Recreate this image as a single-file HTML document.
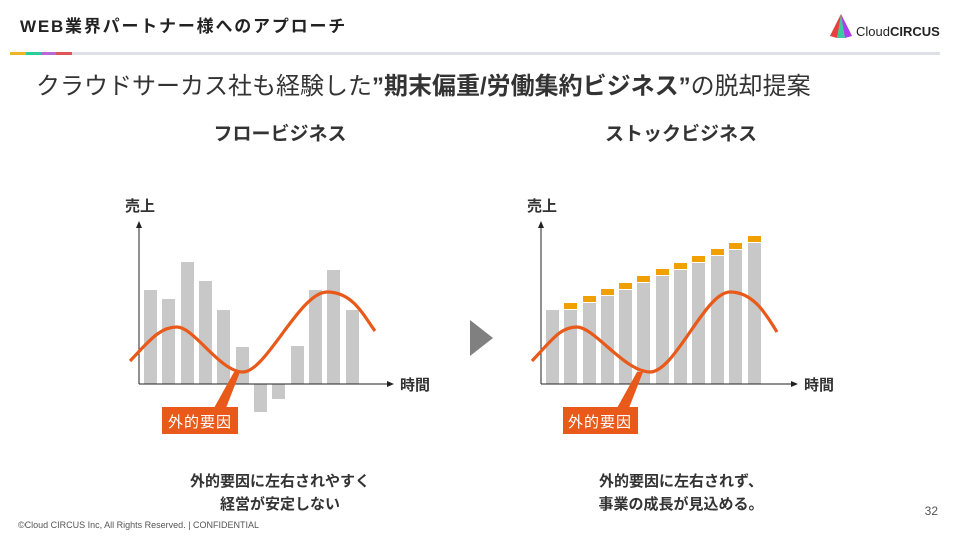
<!DOCTYPE html>
<html><head><meta charset="utf-8"><style>
html,body{margin:0;padding:0;background:#fff}
body{width:960px;height:540px;overflow:hidden;font-family:"Liberation Sans","Noto Sans CJK JP",sans-serif}
</style></head><body>
<svg width="960" height="540" viewBox="0 0 960 540" xmlns="http://www.w3.org/2000/svg" font-family="'Liberation Sans','Noto Sans CJK JP',sans-serif">
<text x="20" y="32" font-size="17" font-weight="bold" fill="#222" letter-spacing="1.8">WEB業界パートナー様へのアプローチ</text>
<g transform="translate(830,14)">
<polygon points="11,0 0,22 22,22" fill="#f5a623"/>
<polygon points="11,0 7,24 15,24" fill="#3cc8a0"/>
<polygon points="11,0 15,24 22,22" fill="#b03cf0"/>
<polygon points="11,0 0,22 7,24" fill="#e84040"/>
</g>
<text x="856" y="36" font-size="13" fill="#222">Cloud<tspan font-weight="bold">CIRCUS</tspan></text>
<rect x="10" y="52" width="930" height="3" fill="#dde0e4"/>
<rect x="10" y="52" width="16" height="3" fill="#f0b429"/>
<rect x="26" y="52" width="15" height="3" fill="#2ecc9a"/>
<rect x="41" y="52" width="15" height="3" fill="#b56ad8"/>
<rect x="56" y="52" width="16" height="3" fill="#e05555"/>
<text x="36" y="94" font-size="24" fill="#333">クラウドサーカス社も経験した<tspan font-weight="bold">”期末偏重/労働集約ビジネス”</tspan>の脱却提案</text>
<text x="280" y="140" font-size="19" fill="#333" text-anchor="middle" font-weight="bold">フロービジネス</text>
<text x="681" y="140" font-size="19" fill="#333" text-anchor="middle" font-weight="bold">ストックビジネス</text>

<!-- left chart -->
<g fill="#c8c8c8">
<rect x="144" y="290" width="13" height="94"/>
<rect x="162" y="299" width="13" height="85"/>
<rect x="181" y="262" width="13" height="122"/>
<rect x="199" y="281" width="13" height="103"/>
<rect x="217" y="310" width="13" height="74"/>
<rect x="236" y="347" width="13" height="37"/>
<rect x="254" y="384" width="13" height="28"/>
<rect x="272" y="384" width="13" height="15"/>
<rect x="291" y="346" width="13" height="38"/>
<rect x="309" y="290" width="13" height="94"/>
<rect x="327" y="270" width="13" height="114"/>
<rect x="346" y="310" width="13" height="74"/>
</g>
<line x1="139" y1="384" x2="390" y2="384" stroke="#222" stroke-width="1"/>
<polygon points="394,384 387,381 387,387" fill="#222"/>
<line x1="139" y1="384" x2="139" y2="226" stroke="#222" stroke-width="1"/>
<polygon points="139,221 136,228 142,228" fill="#222"/>
<text x="125" y="211" font-size="15" fill="#333" font-weight="bold">売上</text>
<text x="400" y="390" font-size="15" fill="#333" font-weight="bold">時間</text>
<path d="M130,361 C150,340 160,327 177,327 S220,372 243,372 S300,292 327,292 S365,318 375,331" fill="none" stroke="#e8591a" stroke-width="3.2"/>
<polygon points="234,372 240,372 226,408 214,408" fill="#e8591a"/>
<rect x="162" y="407" width="76" height="27" fill="#e8591a"/>
<text x="200" y="427" font-size="15" fill="#fff" text-anchor="middle" letter-spacing="1">外的要因</text>

<!-- arrow -->
<polygon points="470,320 493,338 470,356" fill="#808080"/>

<!-- right chart -->
<g fill="#c8c8c8">
<rect x="546" y="310" width="13" height="74"/>
<rect x="564" y="310" width="13" height="74"/>
<rect x="583" y="303" width="13" height="81"/>
<rect x="601" y="296" width="13" height="88"/>
<rect x="619" y="290" width="13" height="94"/>
<rect x="637" y="283" width="13" height="101"/>
<rect x="656" y="276" width="13" height="108"/>
<rect x="674" y="270" width="13" height="114"/>
<rect x="692" y="263" width="13" height="121"/>
<rect x="711" y="256" width="13" height="128"/>
<rect x="729" y="250" width="13" height="134"/>
<rect x="748" y="243" width="13" height="141"/>
</g>
<g fill="#f0a000">
<rect x="564" y="303" width="13" height="6"/>
<rect x="583" y="296" width="13" height="6"/>
<rect x="601" y="289" width="13" height="6"/>
<rect x="619" y="283" width="13" height="6"/>
<rect x="637" y="276" width="13" height="6"/>
<rect x="656" y="269" width="13" height="6"/>
<rect x="674" y="263" width="13" height="6"/>
<rect x="692" y="256" width="13" height="6"/>
<rect x="711" y="249" width="13" height="6"/>
<rect x="729" y="243" width="13" height="6"/>
<rect x="748" y="236" width="13" height="6"/>
</g>
<line x1="541" y1="384" x2="794" y2="384" stroke="#222" stroke-width="1"/>
<polygon points="798,384 791,381 791,387" fill="#222"/>
<line x1="541" y1="384" x2="541" y2="226" stroke="#222" stroke-width="1"/>
<polygon points="541,221 538,228 544,228" fill="#222"/>
<text x="527" y="211" font-size="15" fill="#333" font-weight="bold">売上</text>
<text x="804" y="390" font-size="15" fill="#333" font-weight="bold">時間</text>
<path d="M532,361 C552,340 560,327 577,327 S625,372 650,372 S705,292 730,292 S768,318 777,332" fill="none" stroke="#e8591a" stroke-width="3.2"/>
<polygon points="637,372 643,372 629,408 617,408" fill="#e8591a"/>
<rect x="563" y="407" width="75" height="27" fill="#e8591a"/>
<text x="600" y="427" font-size="15" fill="#fff" text-anchor="middle" letter-spacing="1">外的要因</text>

<text x="280" y="486" font-size="15" fill="#333" text-anchor="middle" font-weight="bold">外的要因に左右されやすく</text>
<text x="280" y="509" font-size="15" fill="#333" text-anchor="middle" font-weight="bold">経営が安定しない</text>
<text x="681" y="486" font-size="15" fill="#333" text-anchor="middle" font-weight="bold">外的要因に左右されず、</text>
<text x="681" y="509" font-size="15" fill="#333" text-anchor="middle" font-weight="bold">事業の成長が見込める。</text>
<text x="18" y="528" font-size="9" fill="#555">©Cloud CIRCUS Inc, All Rights Reserved. | CONFIDENTIAL</text>
<text x="938" y="515" font-size="12" fill="#555" text-anchor="end">32</text>
</svg>
</body></html>
